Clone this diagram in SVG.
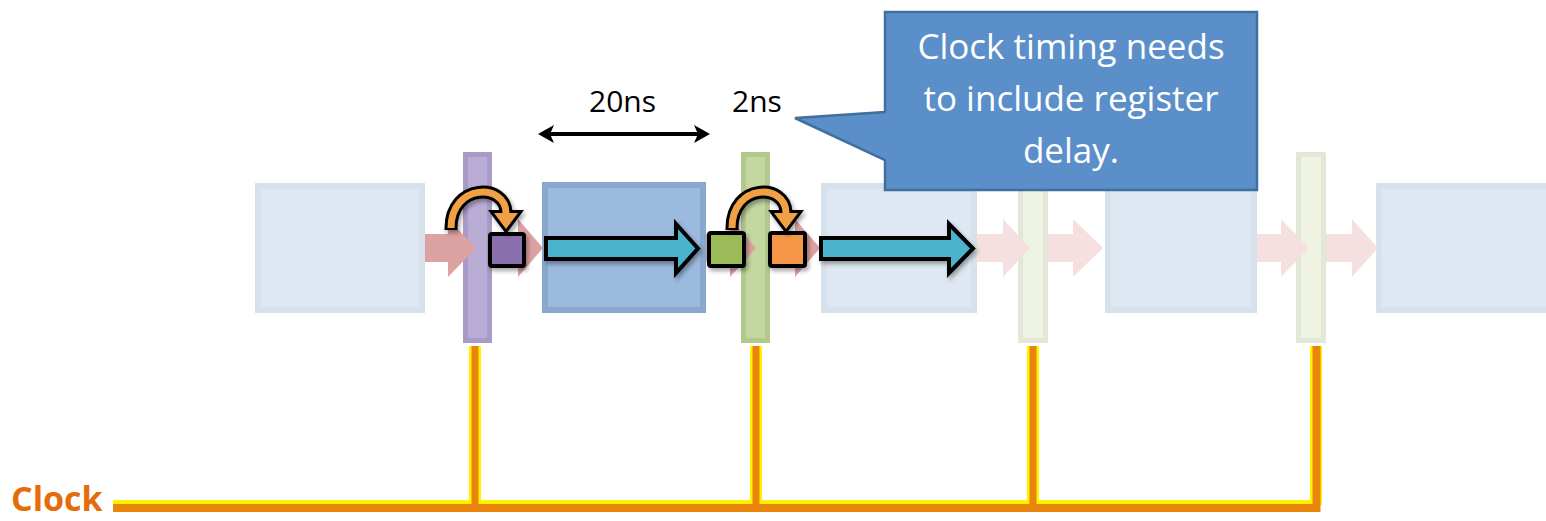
<svg xmlns="http://www.w3.org/2000/svg" width="1546" height="521" viewBox="0 0 1546 521">
  <defs>
    <style>
      .box-faded { fill: #dfe8f2; stroke: #d7e1ec; stroke-width: 6; }
      .box-active { fill: #9bbade; stroke: #8aa8cd; stroke-width: 6; }
      .bar-purple { fill: #b9add6; stroke: #a99bc8; stroke-width: 5; }
      .bar-green { fill: #c4d7a0; stroke: #b3c98b; stroke-width: 5; }
      .bar-faded { fill: #eef3e2; stroke: #e2e7d8; stroke-width: 5; }
      .flow-active { fill: #dca2a2; }
      .flow-faded { fill: #f6dfdf; }
      .data-arrow { fill: #4bb2cc; stroke: #000; stroke-width: 4; stroke-linejoin: miter; }
      .reg { stroke: #000; stroke-width: 4; }
      .hop-outline { fill: none; stroke: #000; stroke-width: 13; }
      .hop-body { fill: none; stroke: #f0a045; stroke-width: 7; }
      .hop-head-outline { fill: #000; stroke: #000; stroke-width: 6; stroke-linejoin: miter; }
      .hop-head { fill: #f0a045; }
      .wire-glow { fill: none; stroke: #fff200; }
      .wire-core { fill: none; stroke: #e9850b; }
      .label { font-family: "Open Sans", "Liberation Sans", sans-serif; fill: #000; font-size: 30px; }
      .callout-text { font-family: "Open Sans", "Liberation Sans", sans-serif; fill: #fff; font-size: 35px; text-anchor: middle; }
      .clock-label { font-family: "Open Sans", "Liberation Sans", sans-serif; fill: #e46c0a; font-size: 34px; font-weight: bold; }
    </style>
    <filter id="softShadow" x="-20%" y="-20%" width="150%" height="160%">
      <feDropShadow dx="2" dy="3" stdDeviation="2" flood-color="#000" flood-opacity="0.35"/>
    </filter>
    <marker id="dimHead" viewBox="0 0 16 18" refX="12" refY="9" markerWidth="16" markerHeight="18" markerUnits="userSpaceOnUse" orient="auto-start-reverse">
      <path d="M0,0 L16,9 L0,18 L4,9 Z" fill="#000"/>
    </marker>
  </defs>

  <!-- pipeline stages (combinational logic blocks) -->
  <g id="stage1"><rect class="box-faded" x="258" y="186" width="164" height="124"/></g>
  <g id="stage2"><rect class="box-active" x="545" y="185" width="158" height="125"/></g>
  <g id="stage3"><rect class="box-faded" x="824" y="186" width="150" height="124"/></g>
  <g id="stage4"><rect class="box-faded" x="1108" y="186" width="146" height="124"/></g>
  <g id="stage5"><rect class="box-faded" x="1379" y="186" width="172" height="124"/></g>

  <!-- pipeline registers -->
  <g id="reg1"><rect class="bar-purple" x="465.5" y="154.5" width="24" height="186"/></g>
  <g id="reg2"><rect class="bar-green" x="743.5" y="154.5" width="24" height="186"/></g>
  <g id="reg3"><rect class="bar-faded" x="1020.5" y="154.5" width="25" height="186"/></g>
  <g id="reg4"><rect class="bar-faded" x="1298.5" y="154.5" width="25" height="186"/></g>

  <!-- connectors -->
  <g id="connectors">
    <!-- data flow between stages and registers -->
    <path class="flow-active" d="M425,234 H448 V219 L476,248 L448,277 V262 H425 Z"/>
    <path class="flow-active" d="M492,234 H518 V219 L543,248 L518,277 V262 H492 Z"/>
    <path class="flow-active" d="M706,234 H730 V219 L756,248 L730,277 V262 H706 Z"/>
    <path class="flow-active" d="M770,234 H795 V219 L820,248 L795,277 V262 H770 Z"/>
    <path class="flow-faded" d="M977,234 H1003 V219 L1030,248 L1003,277 V262 H977 Z"/>
    <path class="flow-faded" d="M1048,234 H1073 V219 L1103,248 L1073,277 V262 H1048 Z"/>
    <path class="flow-faded" d="M1257,234 H1281 V219 L1309,248 L1281,277 V262 H1257 Z"/>
    <path class="flow-faded" d="M1326,234 H1352 V219 L1378,248 L1352,277 V262 H1326 Z"/>

    <!-- signal propagation through logic -->
    <g filter="url(#softShadow)">
      <path class="data-arrow" d="M546,238 H676 V224 L698,248.5 L676,273 V259 H546 Z"/>
      <path class="data-arrow" d="M821,238 H949 V224 L973,248.5 L949,273 V259 H821 Z"/>
    </g>

    <!-- 20ns dimension -->
    <line x1="542" y1="134" x2="706" y2="134" stroke="#000" stroke-width="4" marker-start="url(#dimHead)" marker-end="url(#dimHead)"/>

    <!-- clock distribution -->
    <g id="clock-wire">
      <path class="wire-glow" stroke-width="10" d="M113,505 H1316"/>
      <path class="wire-glow" stroke-width="12" d="M475,346 V505 M756,346 V505 M1033,346 V505 M1316,346 V505"/>
      <path class="wire-core" stroke-width="8" d="M113,508 H1316.5 V346"/>
      <path class="wire-core" stroke-width="7" d="M475,346 V508 M756,346 V508 M1033,346 V508"/>
    </g>
  </g>

  <!-- register values -->
  <g id="value-purple" filter="url(#softShadow)"><rect class="reg" x="490" y="234" width="34" height="32" rx="2" fill="#8a6fae"/></g>
  <g id="value-green" filter="url(#softShadow)"><rect class="reg" x="709" y="233" width="35" height="33" rx="2" fill="#9bbb59"/></g>
  <g id="value-orange" filter="url(#softShadow)"><rect class="reg" x="770" y="233" width="35" height="33" rx="2" fill="#f79646"/></g>

  <!-- register hops (clock-to-output) -->
  <g id="hop1" filter="url(#softShadow)">
    <path class="hop-outline" d="M451,230 L451,228 C451,183 506,183 506,213"/>
    <polygon class="hop-head-outline" points="494,213 518,213 506,229"/>
    <path class="hop-body" d="M451,228 C451,183 506,183 506,213"/>
    <polygon class="hop-head" points="494,213 518,213 506,229"/>
  </g>
  <g id="hop2" filter="url(#softShadow)">
    <path class="hop-outline" d="M732,230 L732,228 C732,183 786,183 786,213"/>
    <polygon class="hop-head-outline" points="774,213 798,213 786,229"/>
    <path class="hop-body" d="M732,228 C732,183 786,183 786,213"/>
    <polygon class="hop-head" points="774,213 798,213 786,229"/>
  </g>

  <!-- timing labels -->
  <g id="label-20ns"><text class="label" x="589" y="112">20ns</text></g>
  <g id="label-2ns"><text class="label" x="732" y="112">2ns</text></g>

  <!-- note callout -->
  <g id="callout">
    <path d="M885,12 H1257 V190 H885 V160 L795,118 L885,112 Z" fill="#5b8fc9" stroke="#41709c" stroke-width="2.5" stroke-linejoin="miter"/>
    <text class="callout-text" x="1071" y="59">Clock timing needs</text>
    <text class="callout-text" x="1071" y="111">to include register</text>
    <text class="callout-text" x="1071" y="163">delay.</text>
  </g>

  <!-- clock source label -->
  <g id="clock"><text class="clock-label" x="11" y="511">Clock</text></g>
</svg>
